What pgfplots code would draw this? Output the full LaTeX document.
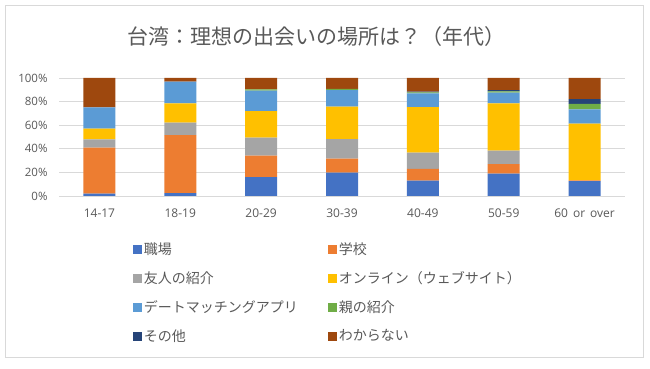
\documentclass[border=0pt]{standalone}
\usepackage{fontspec}
\usepackage{pgfplots}
\usepackage{pgfplotstable}
\pgfplotsset{compat=1.18}
\setmainfont{Noto Sans CJK JP}
\newfontfamily\latin[WordSpace=1.6]{Open Sans}
\definecolor{cblue}{HTML}{4472C4}
\definecolor{corange}{HTML}{ED7D31}
\definecolor{cgray}{HTML}{A5A5A5}
\definecolor{cyellow}{HTML}{FFC000}
\definecolor{clblue}{HTML}{5B9BD5}
\definecolor{cgreen}{HTML}{70AD47}
\definecolor{cnavy}{HTML}{264478}
\definecolor{cbrown}{HTML}{9E480E}
\definecolor{txt}{HTML}{595959}
\definecolor{gridc}{HTML}{D9D9D9}

\pgfplotstableread{
x blue orange gray yellow lblue green navy brown
0 2.0 39.0 7.0 9.0 18.0 0.0 0.0 25.0
1 2.5 49.0 10.7 16.4 18.4 0.0 0.0 3.0
2 16.1 18.1 15.2 22.6 17.3 1.1 0.0 9.6
3 19.8 11.8 16.7 27.4 14.1 0.9 0.0 9.3
4 13.0 9.9 13.8 38.7 11.6 0.9 0.5 11.6
5 18.9 8.2 11.3 40.1 9.1 1.1 1.1 10.2
6 12.7 0.6 0.0 48.0 12.1 4.6 4.2 17.8
}\data

\begin{document}
\begin{tikzpicture}
\path[use as bounding box] (0pt,0pt) rectangle (650pt,369pt);
\draw[gridc] (5.5pt,11.5pt) rectangle (643.5pt,363.5pt);
\node[text=txt, font=\fontsize{21}{25}\selectfont] at (316.5pt,332pt) {台湾：理想の出会いの場所は？（年代）};
\begin{axis}[
  at={(59pt,173pt)}, anchor=south west,
  width=566pt, height=118pt, scale only axis,
  ybar stacked, bar width=32pt,
  xmin=-0.5, xmax=6.5, ymin=0, ymax=100,
  ytick={0,20,...,100},
  yticklabel={\pgfmathprintnumber{\tick}\%},
  ymajorgrids, grid style={gridc, line width=0.8pt},
  axis line style={draw=none},
  major tick length=0pt,
  xtick=data,
  xticklabels={14-17,18-19,20-29,30-39,40-49,50-59,60 or over},
  yticklabel style={font=\latin\fontsize{11.5}{13}\selectfont, text=txt, xshift=-8pt},
  xticklabel style={font=\latin\fontsize{12}{14}\selectfont, text=txt, yshift=-9pt},
  /pgf/number format/assume math mode=true,
  legend columns=2,
  legend cell align=left,
  legend style={at={(0.125,-0.36)}, anchor=north west, draw=none, fill=none,
    font=\fontsize{14}{16}\selectfont, text=txt, row sep=11.5pt,
    /tikz/every even column/.append style={column sep=28pt}},
  legend image code/.code={\fill[#1] (0pt,-5pt) rectangle (9pt,4pt);},
]
\addplot[fill=cblue, draw=none] table[x=x,y=blue]{\data};
\addplot[fill=corange, draw=none] table[x=x,y=orange]{\data};
\addplot[fill=cgray, draw=none] table[x=x,y=gray]{\data};
\addplot[fill=cyellow, draw=none] table[x=x,y=yellow]{\data};
\addplot[fill=clblue, draw=none] table[x=x,y=lblue]{\data};
\addplot[fill=cgreen, draw=none] table[x=x,y=green]{\data};
\addplot[fill=cnavy, draw=none] table[x=x,y=navy]{\data};
\addplot[fill=cbrown, draw=none] table[x=x,y=brown]{\data};
\legend{職場,学校,友人の紹介,オンライン（ウェブサイト）,デートマッチングアプリ,親の紹介,その他,わからない}
\end{axis}
\end{tikzpicture}
\end{document}
